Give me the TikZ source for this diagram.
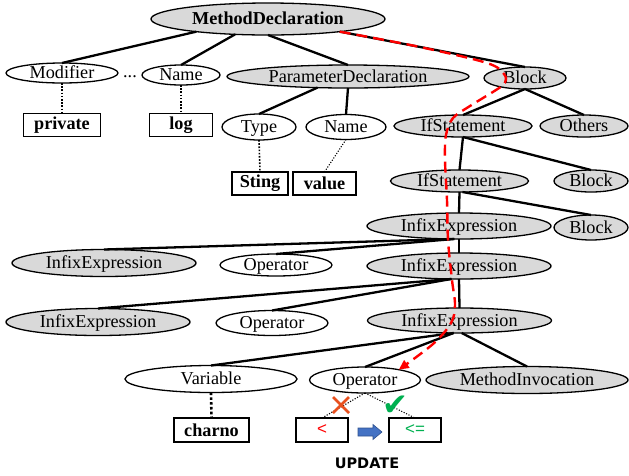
\documentclass[tikz,border=0pt]{standalone}
\usepackage{fontspec}
\setmainfont{Liberation Serif}
\newfontfamily\dejavu{DejaVu Sans}
\newfontfamily\libsans{Liberation Sans}
\usetikzlibrary{shapes.geometric,arrows.meta}
\definecolor{nodegray}{HTML}{D9D9D9}
\definecolor{xred}{HTML}{E8501E}
\definecolor{okgreen}{HTML}{00B050}
\definecolor{arrowblue}{HTML}{4472C4}
\definecolor{arrowblueb}{HTML}{2F528F}
\newcommand{\lbl}[1]{\makebox[0pt]{\raisebox{-0.32em}[0pt][0pt]{#1}}}
\tikzset{
  E/.style n args={2}{minimum width=#1pt, minimum height=#2pt},
  wel/.style={ellipse, draw, line width=1.3pt, inner sep=0pt, outer sep=0pt, fill=white},
  gel/.style={wel, fill=nodegray},
  wbox/.style={rectangle, draw, line width=1.5pt, inner sep=0pt, outer sep=0pt,
    font=\fontsize{18.2}{20}\selectfont\bfseries},
  opbox/.style={rectangle, draw, line width=1.5pt, inner sep=0pt, outer sep=0pt,
    minimum width=52pt, minimum height=24pt, font=\libsans\fontsize{17}{18}\selectfont},
  tedge/.style={line width=2.3pt},
  dotA/.style={line width=1.6pt, dash pattern=on 1.6pt off 1.6pt},
  dotB/.style={line width=1.1pt, dash pattern=on 1.1pt off 1.6pt},
  dotC/.style={line width=2.6pt, dash pattern=on 2.6pt off 2.2pt},
  redpath/.style={red, line width=2.4pt, dash pattern=on 11pt off 6pt,
    -{Triangle[length=10pt,width=9pt]}},
}
\begin{document}
\begin{tikzpicture}[x=1pt,y=-1pt,font=\fontsize{18.2}{20}\selectfont]
\useasboundingbox (0,0) rectangle (629,475);

% ellipses
\node[gel,E={234}{32}] (md) at (268,19) {\lbl{\bfseries MethodDeclaration}};
\node[wel,E={112}{20}] (mod) at (62,73) {\lbl{Modifier}};
\node (dots) at (130,77) {...};
\node[wel,E={78}{20}] (name1) at (181,75) {\lbl{Name}};
\node[gel,E={242}{23}] (pd) at (348,76.5) {\lbl{ParameterDeclaration}};
\node[gel,E={82}{22}] (blk1) at (525,78) {\lbl{Block}};
\node[wel,E={74}{26}] (typ) at (259,127) {\lbl{Type}};
\node[wel,E={80}{25}] (name2) at (346,127) {\lbl{Name}};
\node[gel,E={138}{22}] (if1) at (463,126) {\lbl{IfStatement}};
\node[gel,E={88}{22}] (oth) at (584,126) {\lbl{Others}};
\node[gel,E={138}{22}] (if2) at (459.5,181) {\lbl{IfStatement}};
\node[gel,E={74}{22}] (blk2) at (591,181) {\lbl{Block}};
\node[gel,E={184}{26}] (inf1) at (459,226) {\lbl{InfixExpression}};
\node[gel,E={74}{25}] (blk3) at (591,227.5) {\lbl{Block}};
\node[gel,E={184}{27}] (linfA) at (104,263) {\lbl{InfixExpression}};
\node[wel,E={112}{22}] (opA) at (276,265) {\lbl{Operator}};
\node[gel,E={184}{26}] (inf2) at (459,266) {\lbl{InfixExpression}};
\node[gel,E={184}{27}] (linfB) at (98,322) {\lbl{InfixExpression}};
\node[wel,E={112}{25}] (opB) at (272,323) {\lbl{Operator}};
\node[gel,E={184}{25}] (inf3) at (459.5,320.5) {\lbl{InfixExpression}};
\node[wel,E={172}{27}] (var) at (211,379) {\lbl{Variable}};
\node[wel,E={111}{26}] (opC) at (365,380) {\lbl{Operator}};
\node[gel,E={202}{27}] (mi) at (527,380) {\lbl{MethodInvocation}};

% boxes
\node[wbox,minimum width=77pt,minimum height=23pt] (priv) at (62,125) {private};
\node[wbox,minimum width=63pt,minimum height=23pt] (log) at (181,125) {log};
\node[wbox,minimum width=56pt,minimum height=23pt] (sting) at (260,183.5) {Sting};
\node[wbox,minimum width=63pt,minimum height=23pt] (value) at (324.5,183.5) {value};
\node[wbox,minimum width=75pt,minimum height=24pt] (charno) at (211.5,430) {charno};
\node[opbox,text=red] (lt) at (322,430) {<};
\node[opbox,text=okgreen] (le) at (415,430) {<=};

% tree edges
\begin{scope}[tedge]
\draw (md.190) -- (mod.north);
\draw (md.205) -- (name1.north);
\draw (md.south) -- (pd.north);
\draw (md.350) -- (blk1.north);
\draw (pd.200) -- (typ.north);
\draw (pd.south) -- (name2.north);
\draw (blk1.south) -- (if1.north);
\draw (blk1.south) -- (oth.north);
\draw (if1.south) -- (if2.north);
\draw (if1.south) -- (blk2.north);
\draw (if2.south) -- (inf1.north);
\draw (if2.285) -- (blk3.north);
\draw (inf1.250) -- (linfA.north);
\draw (inf1.250) -- (opA.north);
\draw (inf1.south) -- (inf2.north);
\draw (inf2.240) -- (linfB.north);
\draw (inf2.240) -- (opB.north);
\draw (inf2.south) -- (inf3.north);
\draw (inf3.245) -- (var.north);
\draw (inf3.245) -- (opC.north);
\draw (inf3.280) -- (mi.north);
\end{scope}

% dotted links
\draw[dotA] (mod.south) -- (priv.north);
\draw[dotA] (name1.south) -- (log.north);
\draw[dotA] (typ.south) -- (sting.north);
\draw[dotB] (name2.south) -- (value.north);
\draw[dotC] (var.south) -- (charno.north);
\draw[dotB] (opC.south) -- (lt.north);
\draw[dotB] (opC.south) -- (le.north);

% red dashed path
\draw[redpath] plot[smooth, tension=0.55] coordinates {(md.350) (420,47) (487,63) (504,74) (505,83) (496,90) (470,106) (453,118) (446,135) (445,160) (447,200) (448,240) (452,280) (455,305) (451,323) (433,344) (opC.17)};

% marks
\draw[xred, line width=2.8pt] (333,397) -- (349,413);
\draw[xred, line width=2.8pt] (349,397) -- (333,413);
\node[text=okgreen, font=\dejavu\fontsize{31}{32}\selectfont, inner sep=0pt] (chk) at (395,406) {✔};

% update arrow
\filldraw[fill=arrowblue, draw=arrowblueb, line width=0.6pt] (358,428) -- (373,428) -- (373,424.5) -- (382,432) -- (373,439.5) -- (373,436) -- (358,436) -- cycle;
\node[font=\dejavu\bfseries\fontsize{14.5}{16}\selectfont] (upd) at (367,463) {UPDATE};
\end{tikzpicture}
\end{document}
